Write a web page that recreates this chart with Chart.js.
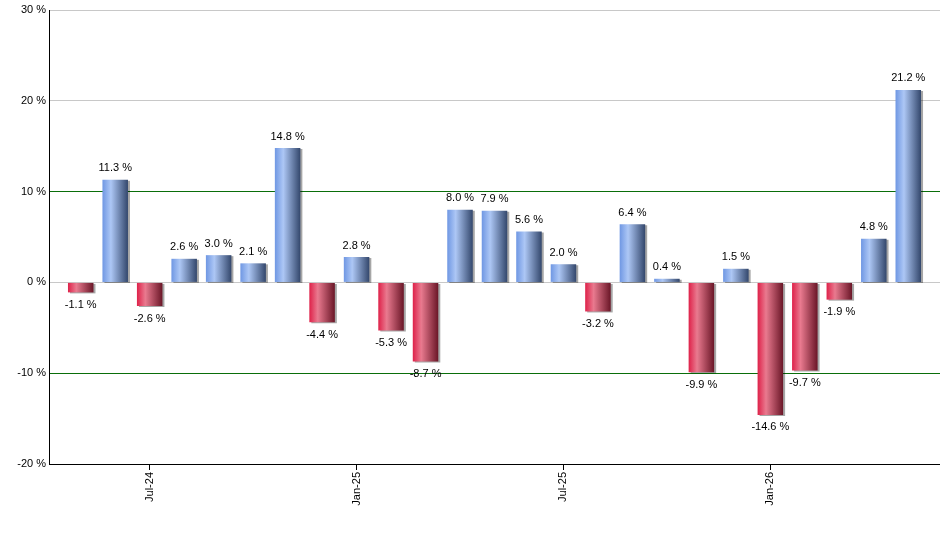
<!DOCTYPE html>
<html>
<head>
<meta charset="utf-8">
<script src="https://cdn.jsdelivr.net/npm/chart.js@4/dist/chart.umd.min.js"></script>
<style>
html,body{margin:0;padding:0;background:#fff;}
#wrap{width:940px;height:550px;position:relative;}
</style>
</head>
<body>
<div id="wrap"><canvas id="c"></canvas></div>
<script>
const months = ['May-24','Jun-24','Jul-24','Aug-24','Sep-24','Oct-24','Nov-24','Dec-24','Jan-25','Feb-25','Mar-25','Apr-25','May-25','Jun-25','Jul-25','Aug-25','Sep-25','Oct-25','Nov-25','Dec-25','Jan-26','Feb-26','Mar-26','Apr-26','May-26'];
const returns = [-1.1, 11.3, -2.6, 2.6, 3.0, 2.1, 14.8, -4.4, 2.8, -5.3, -8.7, 8.0, 7.9, 5.6, 2.0, -3.2, 6.4, 0.4, -9.9, 1.5, -14.6, -9.7, -1.9, 4.8, 21.2];
const labeledTicks = [2, 8, 14, 20];
const yTicks = [-20, -10, 0, 10, 20, 30];

const FONT = 'Liberation Sans, Arial, sans-serif';

const barStyle = {
  id: 'barStyle',
  beforeDatasetsDraw(chart) {
    const ctx = chart.ctx;
    chart.getDatasetMeta(0).data.forEach((el, i) => {
      const w = el.width;
      const x0 = el.x - w / 2, x1 = el.x + w / 2;
      const g = ctx.createLinearGradient(x0, 0, x1, 0);
      if (returns[i] >= 0) {
        g.addColorStop(0, '#6f97e3');
        g.addColorStop(0.33, '#adc7f5');
        g.addColorStop(1, '#33476c');
      } else {
        g.addColorStop(0, '#de2149');
        g.addColorStop(0.33, '#e97a8f');
        g.addColorStop(1, '#6a1627');
      }
      el.options.backgroundColor = g;
    });
    ctx.save();
    ctx.shadowColor = 'rgba(0,0,0,0.35)';
    ctx.shadowOffsetX = 2;
    ctx.shadowOffsetY = 1;
    ctx.shadowBlur = 0;
  },
  afterDatasetsDraw(chart) {
    const ctx = chart.ctx;
    ctx.restore();
    ctx.save();
    ctx.font = '11px ' + FONT;
    ctx.fillStyle = '#000';
    ctx.textAlign = 'center';
    chart.getDatasetMeta(0).data.forEach((el, i) => {
      const v = returns[i];
      const t = v.toFixed(1) + ' %';
      if (v >= 0) {
        ctx.textBaseline = 'bottom';
        ctx.fillText(t, el.x, el.y - 6);
      } else {
        ctx.textBaseline = 'top';
        ctx.fillText(t, el.x, el.y + 7);
      }
    });
    ctx.restore();
  }
};

new Chart(document.getElementById('c'), {
  type: 'bar',
  data: {
    datasets: [{
      data: returns.map((v, i) => ({x: i, y: v})),
      backgroundColor: c => (c.raw && c.raw.y >= 0 ? '#6f97e3' : '#de2149'),
      borderWidth: 0,
      barPercentage: 0.74,
      categoryPercentage: 1
    }]
  },
  options: {
    responsive: true,
    maintainAspectRatio: false,
    animation: false,
    devicePixelRatio: 1,
    layout: {padding: {top: 10, right: 0, left: 0, bottom: 0}},
    plugins: {legend: {display: false}, tooltip: {enabled: false}},
    scales: {
      x: {
        type: 'linear',
        offset: false,
        min: -0.92,
        max: 24.92,
        afterBuildTicks: s => { s.ticks = labeledTicks.map(v => ({value: v})); },
        afterFit: s => { s.height = 86; },
        ticks: {
          autoSkip: false,
          minRotation: 90,
          maxRotation: 90,
          padding: 2,
          color: '#000',
          font: {family: FONT, size: 11},
          callback: v => months[v]
        },
        grid: {offset: false, drawOnChartArea: false, drawTicks: true, tickLength: 6, color: '#000'},
        border: {color: '#000', width: 1}
      },
      y: {
        min: -20,
        max: 30,
        afterBuildTicks: s => { s.ticks = yTicks.map(v => ({value: v})); },
        afterFit: s => { s.width = 49; },
        ticks: {
          padding: 3,
          color: '#000',
          font: {family: FONT, size: 11},
          callback: v => v + ' %'
        },
        grid: {
          drawTicks: false,
          color: c => {
            const v = c.tick && c.tick.value;
            if (v === 10 || v === -10) return '#0a6e0a';
            if (v === -20) return 'rgba(0,0,0,0)';
            return '#c8c8c8';
          },
          lineWidth: 1
        },
        border: {color: '#000', width: 1}
      }
    }
  },
  plugins: [barStyle]
});
</script>
</body>
</html>
